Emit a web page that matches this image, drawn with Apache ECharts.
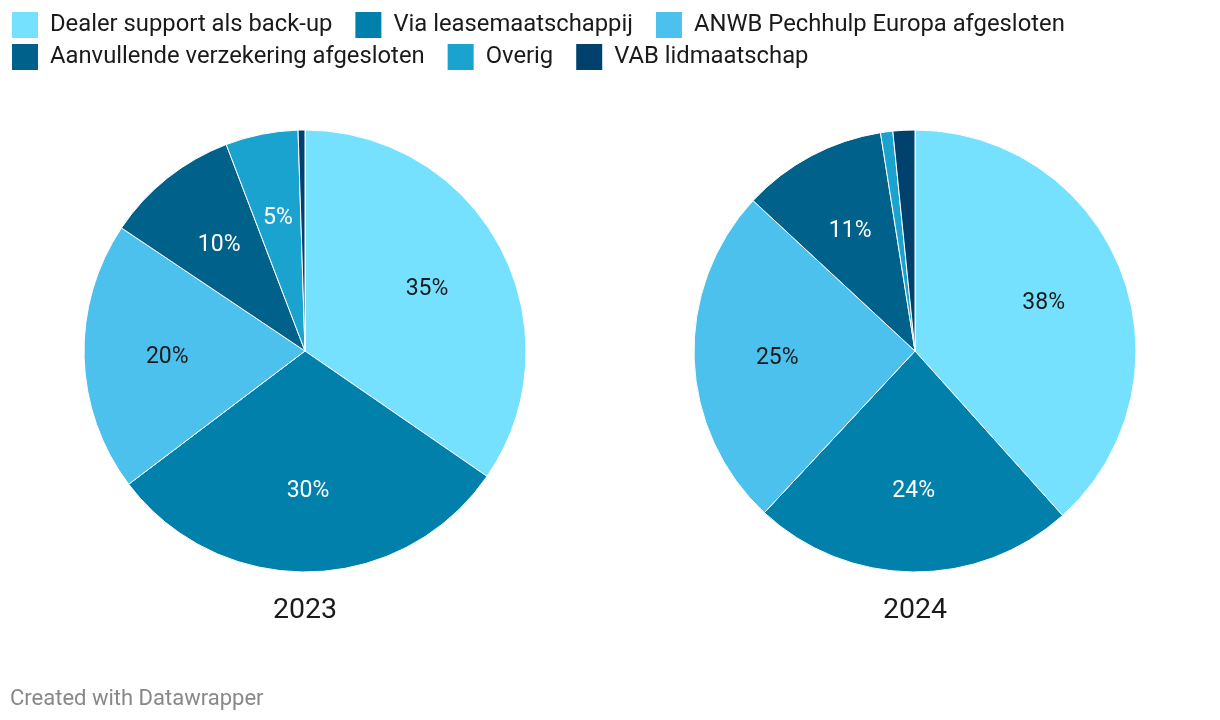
<!DOCTYPE html>
<html>
<head>
<meta charset="utf-8">
<script src="https://cdn.jsdelivr.net/npm/echarts@6/dist/echarts.min.js"></script>
<style>html,body{margin:0;padding:0;background:#fff}#c{width:1220px;height:720px}</style>
</head>
<body>
<div id="c"></div>
<script>
const categories = ['Dealer support als back-up','Via leasemaatschappij','ANWB Pechhulp Europa afgesloten','Aanvullende verzekering afgesloten','Overig','VAB lidmaatschap'];
const values2023 = [34.6, 30.1, 19.7, 9.8, 5.3, 0.5];
const values2024 = [38.4, 23.6, 25.0, 10.6, 0.9, 1.6];
const years = ['2023', '2024'];
const colors = ['#75e1ff','#0080ab','#4dc1ed','#00618a','#1ba3cf','#00426d'];
const labelColors = ['#1a1a1a','#ffffff','#1a1a1a','#ffffff','#ffffff','#ffffff'];
const FONT = 'Roboto';

function mk(vals){ return categories.map((n,i)=>({name:n, value:vals[i]})); }

const centers = [[305,351],[915,351]];
const R = 221;
const series = [];
[values2023, values2024].forEach((vals, k) => {
  series.push({
    type:'pie', name: years[k], center: centers[k], radius:[0,R],
    startAngle:90, clockwise:true, animation:false, silent:true,
    color: colors, label:{show:false}, labelLine:{show:false},
    itemStyle:{borderColor:'#fff', borderWidth:1},
    data: mk(vals)
  });
  series.push({
    type:'pie', name: years[k]+'-labels', center: [centers[k][0], centers[k][1]+2], radius:[0,R*1.22],
    startAngle:90, clockwise:true, animation:false, silent:true,
    itemStyle:{color:'rgba(0,0,0,0)', borderWidth:0},
    labelLine:{show:false},
    label:{show:true, position:'inside', fontFamily:FONT, fontSize:23,
      formatter: p => p.value < 2 ? '' : Math.round(p.value) + '%'},
    data: mk(vals).map((d,i)=>({...d, label:{color:labelColors[i]}}))
  });
});

const legendBase = {
  icon:'rect', itemWidth:28, itemHeight:28, itemGap:21, left:10, orient:'horizontal', padding:0,
  textStyle:{fontFamily:FONT, fontSize:23.8, color:'#1a1a1a', padding:[0,0,0,6]},
  selectedMode:false
};

const chart = echarts.init(document.getElementById('c'), null, {renderer:'canvas'});
chart.setOption({
  backgroundColor:'#fff',
  color: colors,
  legend:[
    Object.assign({}, legendBase, {top:10, data:categories.slice(0,3)}),
    Object.assign({}, legendBase, {top:42, data:categories.slice(3)})
  ],
  title:[
    {text:years[0], left:305, top:596, padding:0, textAlign:'center', textStyle:{fontFamily:FONT, fontSize:28.5, fontWeight:'normal', color:'#1a1a1a'}},
    {text:years[1], left:915, top:596, padding:0, textAlign:'center', textStyle:{fontFamily:FONT, fontSize:28.5, fontWeight:'normal', color:'#1a1a1a'}},
    {text:'Created with Datawrapper', left:10, top:688, padding:0, textStyle:{fontFamily:FONT, fontSize:22, fontWeight:'normal', color:'#888888'}}
  ],
  series: series
});
</script>
</body>
</html>
